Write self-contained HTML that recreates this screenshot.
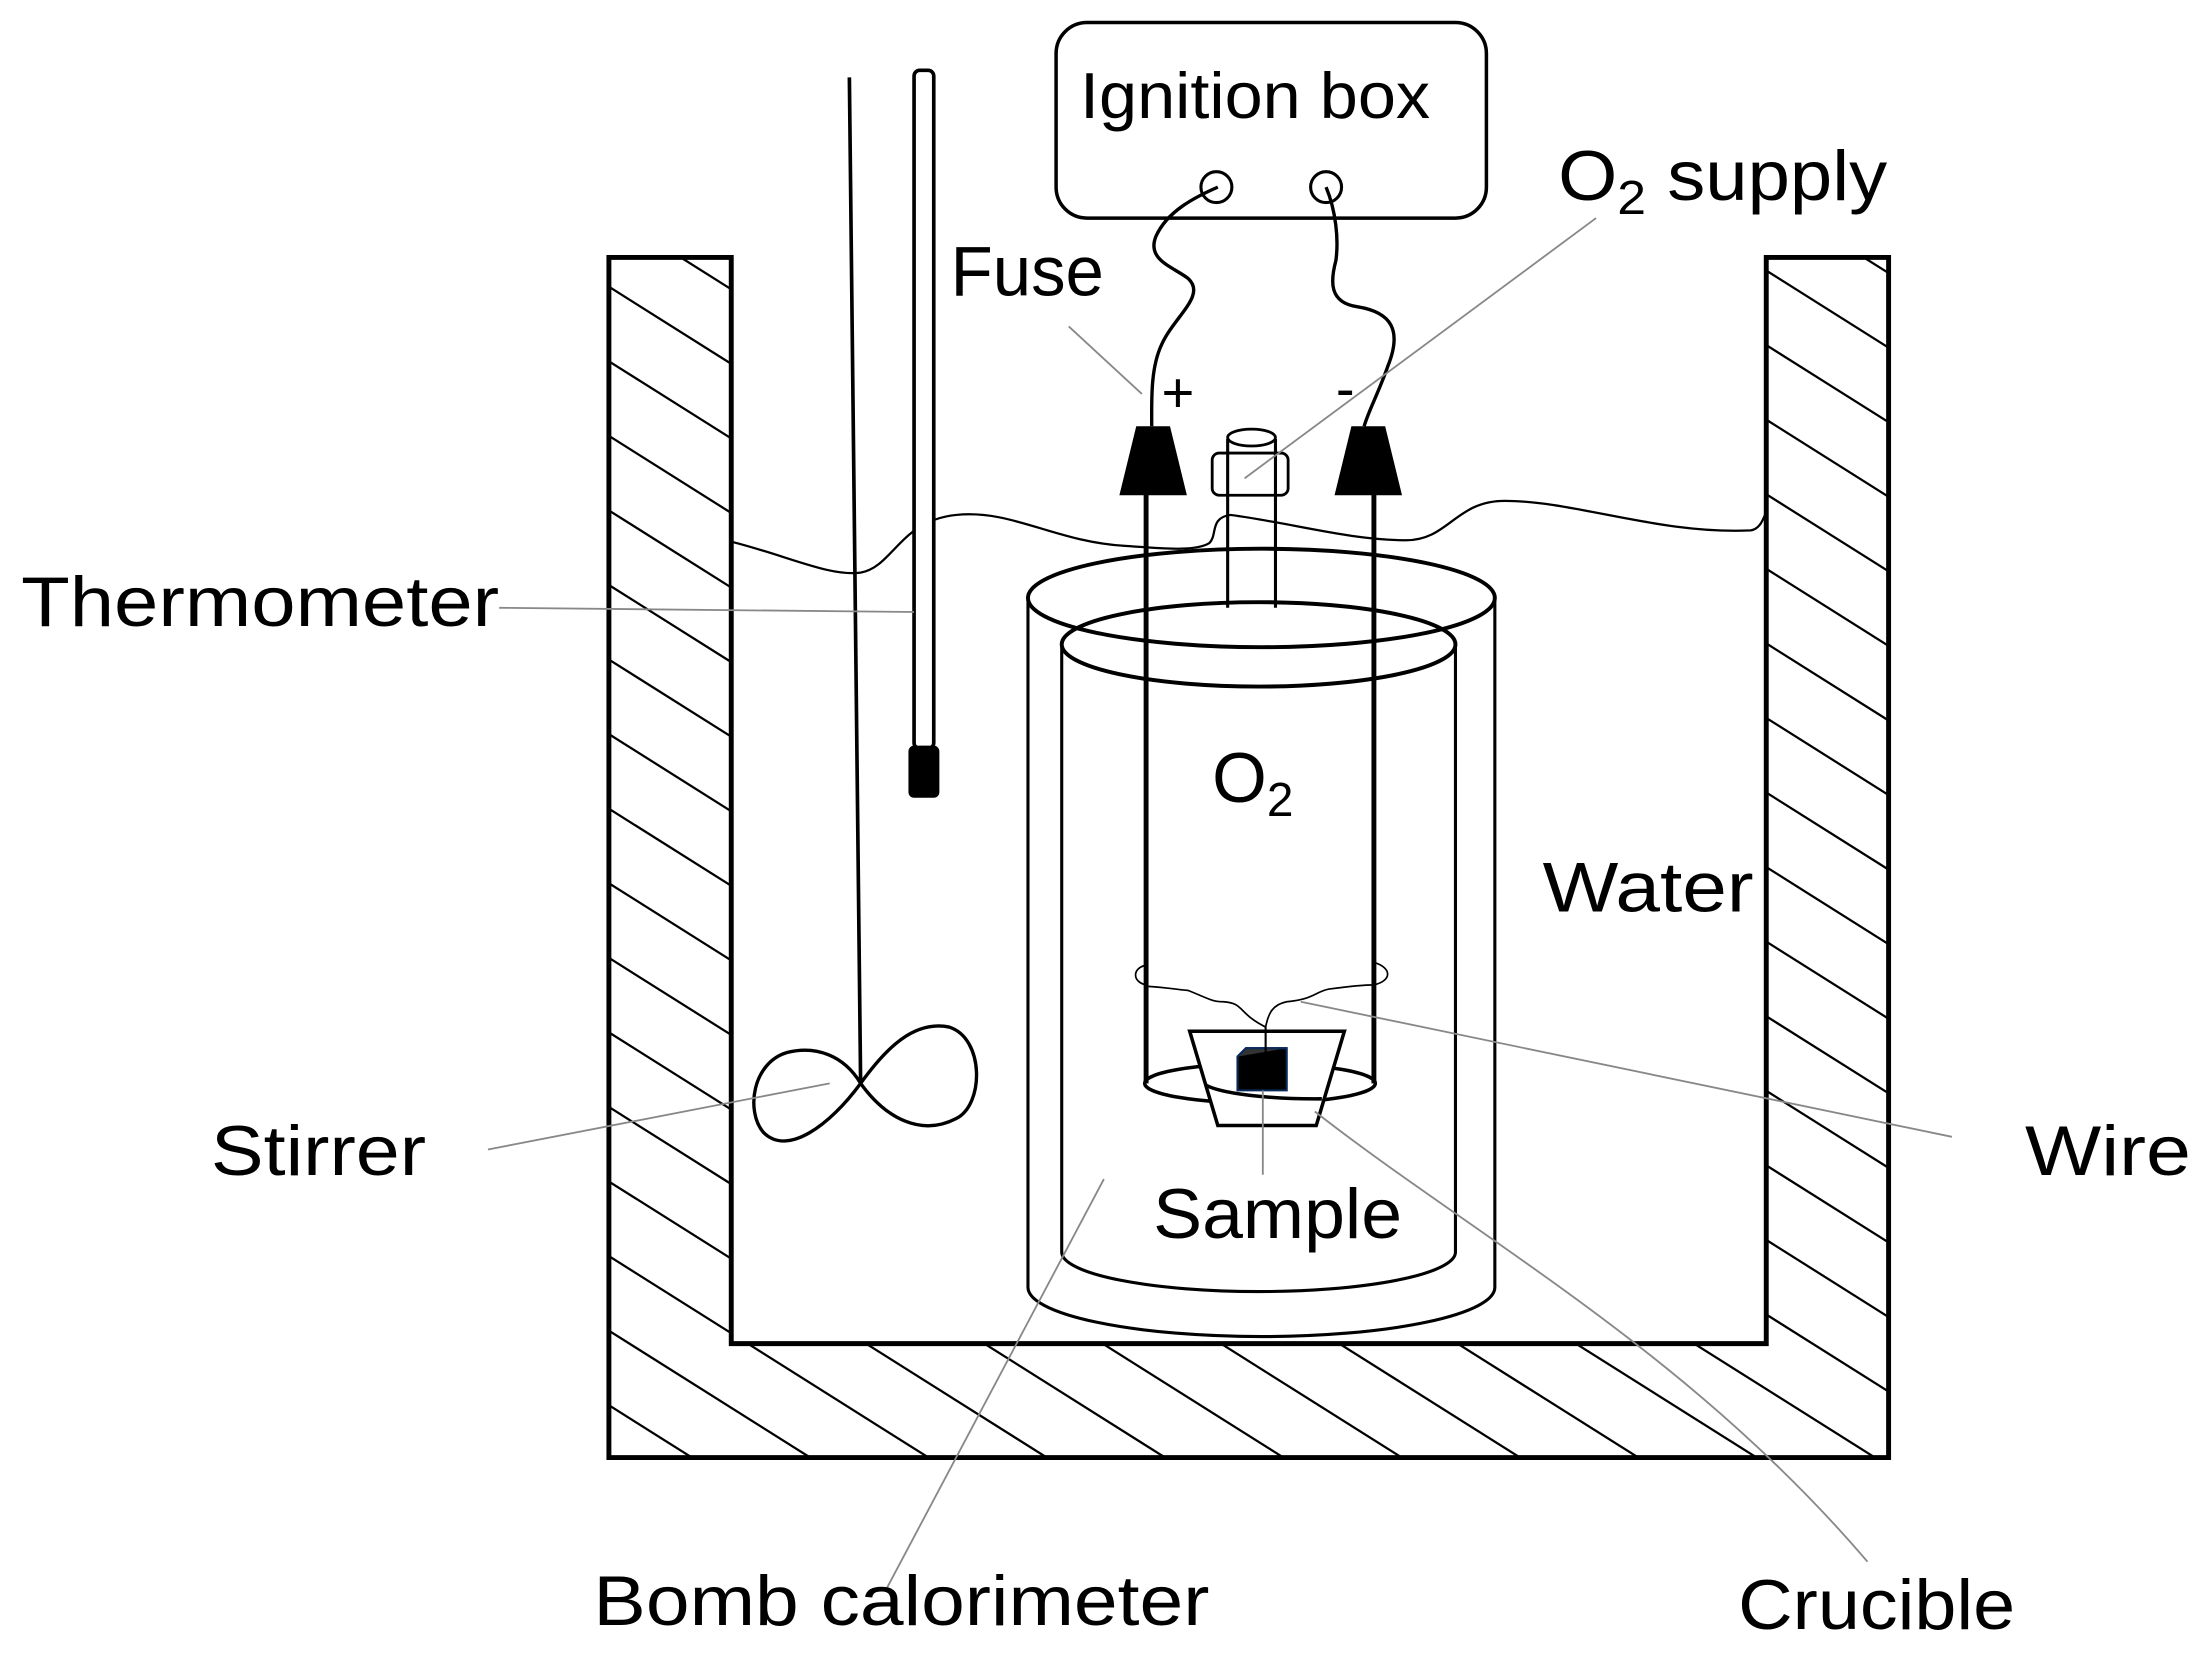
<!DOCTYPE html>
<html><head><meta charset="utf-8"><style>
html,body{margin:0;padding:0;background:#fff;overflow:hidden;width:2205px;height:1663px;}
svg{display:block;}
text{font-family:"Liberation Sans",sans-serif;fill:#000;}
</style></head><body>
<svg width="2205" height="1663" viewBox="0 0 1568 1182" preserveAspectRatio="none" xmlns="http://www.w3.org/2000/svg">
<defs>
<clipPath id="walls">
<path d="M433,183 L520,183 L520,955 L1256,955 L1256,183 L1343,183 L1343,1036 L433,1036 Z"/>
</clipPath>
<line id="h" x1="300" y1="60" x2="1500" y2="816"/>
</defs>
<g clip-path="url(#walls)" stroke="#000" stroke-width="1.6">
<use href="#h" y="-1000"/><use href="#h" y="-947"/><use href="#h" y="-894"/><use href="#h" y="-841"/><use href="#h" y="-788"/><use href="#h" y="-735"/><use href="#h" y="-682"/><use href="#h" y="-629"/><use href="#h" y="-576"/><use href="#h" y="-523"/><use href="#h" y="-470"/><use href="#h" y="-417"/><use href="#h" y="-364"/><use href="#h" y="-311"/><use href="#h" y="-258"/><use href="#h" y="-205"/><use href="#h" y="-152"/><use href="#h" y="-99"/><use href="#h" y="-46"/><use href="#h" y="7"/><use href="#h" y="60"/><use href="#h" y="113"/><use href="#h" y="166"/><use href="#h" y="219"/><use href="#h" y="272"/><use href="#h" y="325"/><use href="#h" y="378"/><use href="#h" y="431"/><use href="#h" y="484"/><use href="#h" y="537"/><use href="#h" y="590"/><use href="#h" y="643"/><use href="#h" y="696"/><use href="#h" y="749"/><use href="#h" y="802"/><use href="#h" y="855"/><use href="#h" y="908"/><use href="#h" y="961"/>
</g>
<path d="M433,183 L520,183 L520,955 L1256,955 L1256,183 L1343,183 L1343,1036 L433,1036 Z" fill="none" stroke="#000" stroke-width="3.5"/>

<path d="M520,385 C560,395 590,410 612,407 C635,403 640,370 680,366 C720,362 750,385 800,388 C830,390 850,392 860,386 C866,380 860,368 875,366 C920,372 960,384 1000,384 C1030,384 1035,356 1070,356 C1120,356 1180,380 1245,377 C1252,376 1254,368 1256,364" fill="none" stroke="#000" stroke-width="1.6"/>

<rect x="751" y="16" width="306" height="139" rx="22" fill="#fff" stroke="#000" stroke-width="2.5"/>
<circle cx="865" cy="133" r="11" fill="none" stroke="#000" stroke-width="2.2"/>
<circle cx="943" cy="133" r="11" fill="none" stroke="#000" stroke-width="2.2"/>
<path d="M866,133 C850,140 830,150 822,168 C815,185 835,190 845,198 C858,210 835,225 826,245 C818,262 819,285 819,303" fill="none" stroke="#000" stroke-width="2.4"/>
<path d="M943,133 C950,150 952,170 950,185 C946,200 945,215 965,218 C990,222 997,235 987,260 C980,280 974,290 970,303" fill="none" stroke="#000" stroke-width="2.4"/>

<line x1="604" y1="55" x2="612" y2="770" stroke="#000" stroke-width="2.6"/>
<path d="M612,770 C600,750 580,743 560,748 C535,755 530,790 543,805 C560,822 590,800 612,770 C630,745 650,725 675,730 C700,738 700,785 680,795 C655,808 630,795 612,770 Z" fill="none" stroke="#000" stroke-width="2.4"/>

<rect x="650" y="50" width="14" height="482" rx="4" fill="#fff" stroke="#000" stroke-width="2.6"/>
<rect x="646" y="530" width="22" height="37" rx="4" fill="#000"/>

<path d="M731,425 L731,915 A166,35 0 0 0 1063,915 L1063,425" fill="none" stroke="#000" stroke-width="2.2"/>
<ellipse cx="897" cy="425" rx="166" ry="35" fill="none" stroke="#000" stroke-width="2.8"/>
<path d="M755,458 L755,890 A140,28 0 0 0 1035,890 L1035,458" fill="none" stroke="#000" stroke-width="2.2"/>
<ellipse cx="895" cy="458" rx="140" ry="30" fill="none" stroke="#000" stroke-width="2.8"/>

<line x1="873" y1="312" x2="873" y2="432" stroke="#000" stroke-width="2.2"/>
<line x1="907" y1="312" x2="907" y2="432" stroke="#000" stroke-width="2.2"/>
<ellipse cx="890" cy="311" rx="17" ry="6" fill="#fff" stroke="#000" stroke-width="2"/>
<rect x="862" y="322" width="54" height="30" rx="5" fill="none" stroke="#000" stroke-width="2"/>

<line x1="815" y1="345" x2="815" y2="770" stroke="#000" stroke-width="3.5"/>
<line x1="977" y1="345" x2="977" y2="770" stroke="#000" stroke-width="3.5"/>
<polygon points="808,303 832,303 844,352 796,352" fill="#000"/>
<polygon points="961,303 985,303 997,352 949,352" fill="#000"/>

<ellipse cx="896" cy="770" rx="82" ry="14" fill="none" stroke="#000" stroke-width="2.5"/>
<polygon points="846,733 956,733 936,800 866,800" fill="#fff" stroke="#000" stroke-width="2.5"/>
<path d="M857,771 A82,14 0 0 0 940,781" fill="none" stroke="#000" stroke-width="2.5"/>
<polygon points="886,745 915,745 915,775 880,775 880,751" fill="#000" stroke="#0a2a5a" stroke-width="1.5"/>
<path d="M880,751 L886,745 L915,745" fill="#333" stroke="#0a2a5a" stroke-width="1.5"/>

<path d="M815,700 C805,698 805,688 815,686 M815,701 C830,702 835,703 845,704 C860,710 862,712 870,712 C885,713 880,720 900,730 C902,720 905,714 915,712 C935,710 935,705 945,703 C960,701 970,700 977,700 C990,697 990,688 977,684" fill="none" stroke="#000" stroke-width="1.2"/>
<line x1="900" y1="730" x2="900" y2="748" stroke="#000" stroke-width="1.5"/>

<g stroke="#888" stroke-width="1.3" fill="none">
<line x1="355" y1="432" x2="650" y2="435"/>
<line x1="760" y1="232" x2="812" y2="280"/>
<line x1="1135" y1="155" x2="885" y2="340"/>
<line x1="347" y1="817" x2="590" y2="770"/>
<line x1="1388" y1="808" x2="925" y2="712"/>
<line x1="898" y1="775" x2="898" y2="835"/>
<line x1="630" y1="1130" x2="785" y2="838"/>
<path d="M935,790 C1050,880 1200,960 1328,1110"/>
</g>

<g font-size="50">
<text x="768" y="84" font-size="46" textLength="249" lengthAdjust="spacingAndGlyphs">Ignition box</text>
<text x="1108" y="142" textLength="234" lengthAdjust="spacingAndGlyphs">O<tspan font-size="34" dy="10">2</tspan><tspan dy="-10"> supply</tspan></text>
<text x="676" y="210" textLength="109" lengthAdjust="spacingAndGlyphs">Fuse</text>
<text x="826" y="293" font-size="40">+</text>
<text x="950" y="290" font-size="40">-</text>
<text x="15" y="445" textLength="340" lengthAdjust="spacingAndGlyphs">Thermometer</text>
<text x="862" y="570">O<tspan font-size="34" dy="10">2</tspan></text>
<text x="1097" y="648" textLength="150" lengthAdjust="spacingAndGlyphs">Water</text>
<text x="150" y="835" textLength="153" lengthAdjust="spacingAndGlyphs">Stirrer</text>
<text x="1440" y="835" textLength="118" lengthAdjust="spacingAndGlyphs">Wire</text>
<text x="820" y="880" textLength="177" lengthAdjust="spacingAndGlyphs">Sample</text>
<text x="422" y="1155" textLength="438" lengthAdjust="spacingAndGlyphs">Bomb calorimeter</text>
<text x="1236" y="1158" textLength="197" lengthAdjust="spacingAndGlyphs">Crucible</text>
</g>
</svg>
</body></html>
